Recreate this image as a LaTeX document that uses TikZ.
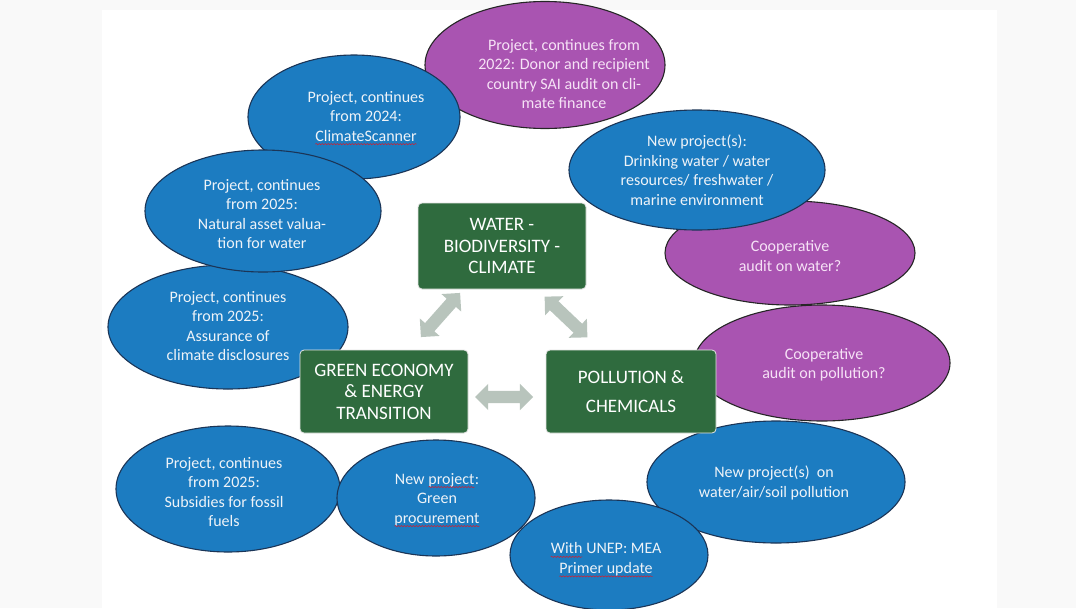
\documentclass[tikz,border=0pt]{standalone}
\usepackage{fontspec}
\setmainfont{Carlito}
\usetikzlibrary{shapes.geometric,shapes.arrows,decorations.pathmorphing}
\definecolor{pagegray}{HTML}{F9F9F9}
\definecolor{myblue}{HTML}{1C7CC1}
\definecolor{bluedraw}{HTML}{1B3557}
\definecolor{mypurple}{HTML}{A954B1}
\definecolor{mygreen}{HTML}{2F6B3E}
\definecolor{arrowgray}{HTML}{B8C4BC}
\definecolor{etextcol}{HTML}{EEF3F8}
\definecolor{ptextcol}{HTML}{F6E2F6}
\definecolor{wavered}{HTML}{D02030}
\newcommand\wv[1]{\tikz[baseline=(w.base),x=1cm,y=1cm]{\node[inner sep=0pt,outer sep=0pt,text=etextcol] (w) {#1};\draw[wavered,line width=0.5pt,decorate,decoration={snake,amplitude=0.6pt,segment length=3pt}] ([yshift=-3pt]w.base west) -- ([yshift=-3pt]w.base east);}}
\begin{document}
\begin{tikzpicture}[x=1pt,y=-1pt,
  blueblob/.style={ellipse, fill=myblue, draw=bluedraw, line width=1.1pt, inner sep=0pt},
  purpleblob/.style={ellipse, fill=mypurple, draw=black!85, line width=1.1pt, inner sep=0pt},
  etext/.style={text=etextcol, font=\fontsize{16}{19.5}\selectfont, align=center, inner sep=0pt},
  ptext/.style={etext, text=ptextcol},
  gbox/.style={rectangle, rounded corners=4pt, fill=mygreen, draw=white!80!gray, line width=0.8pt, text=white, font=\fontsize{19}{21.5}\selectfont, align=center, inner sep=0pt},
  dblarrow/.style={double arrow, fill=arrowgray, minimum height=59pt, double arrow head extend=7pt, inner xsep=0pt, inner ysep=0pt}]
\fill[pagegray] (0,0) rectangle (1076,608);
\fill[white] (102,10) rectangle (997,608);
\useasboundingbox (0,0) rectangle (1076,608);

% ellipses (back to front)
\node[purpleblob, minimum width=240pt, minimum height=127pt] (e1) at (545,65) {};
\node[ptext] (t1) at (564,74) {Project, continues from\\2022: Donor and recipient\\country SAI audit on cli-\\mate finance};
\node[purpleblob, minimum width=250pt, minimum height=104pt] (e5) at (790,253) {};
\node[ptext] (t5) at (790,256) {Cooperative\\audit on water?};
\node[purpleblob, minimum width=256pt, minimum height=116pt] (e7) at (822,363) {};
\node[ptext] (t7) at (824,365) {Cooperative\\audit on pollution?};
\node[blueblob, minimum width=240pt, minimum height=124pt] (e6) at (228,327) {};
\node[etext] (t6) at (228,326) {Project, continues\\from 2025:\\Assurance of\\climate disclosures};
\node[blueblob, minimum width=212pt, minimum height=124pt] (e2) at (354,117) {};
\node[etext] (t2) at (366,118) {Project, continues\\from 2024:\\\wv{ClimateScanner}};
\node[blueblob, minimum width=256pt, minimum height=120pt] (e3) at (697,170) {};
\node[etext] (t3) at (697,170) {New project(s):\\Drinking water / water\\resources/ freshwater /\\marine environment};
\node[blueblob, minimum width=236pt, minimum height=122pt] (e4) at (263,211) {};
\node[etext] (t4) at (262,214) {Project, continues\\from 2025:\\Natural asset valua-\\tion for water};
\node[blueblob, minimum width=258pt, minimum height=122pt] (e8) at (776,482) {};
\node[etext] (t8) at (774,483) {New project(s)~~on\\water/air/soil pollution};
\node[blueblob, minimum width=224pt, minimum height=126pt] (e9) at (228,489) {};
\node[etext] (t9) at (224,492) {Project, continues\\from 2025:\\Subsidies for fossil\\fuels};
\node[blueblob, minimum width=198pt, minimum height=116pt] (e10) at (436,498) {};
\node[etext] (t10) at (437,500) {New \wv{project}:\\Green\\\wv{procurement}};
\node[blueblob, minimum width=198pt, minimum height=110pt] (e11) at (609,555) {};
\node[etext] (t11) at (606,560) {\wv{With} UNEP: MEA\\\wv{Primer update}};

% central boxes
\node[gbox, minimum width=168pt, minimum height=86pt] (water) at (502,246) {WATER -\\BIODIVERSITY -\\CLIMATE};
\node[gbox, minimum width=168pt, minimum height=83pt] (green) at (384,391.5) {GREEN ECONOMY\\\&\ ENERGY\\TRANSITION};
\node[gbox, minimum width=170pt, minimum height=83pt] (poll) at (631,391.5) {POLLUTION \&\\[7pt]CHEMICALS};

% block double arrows
\node[dblarrow, rotate=48.4] (a1) at (440.5,315) {\rule{0pt}{12pt}};
\node[dblarrow, rotate=-43.6] (a2) at (566,317) {\rule{0pt}{12pt}};
\node[dblarrow, minimum height=58pt] (a3) at (504,397) {\rule{0pt}{12pt}};
\end{tikzpicture}
\end{document}
